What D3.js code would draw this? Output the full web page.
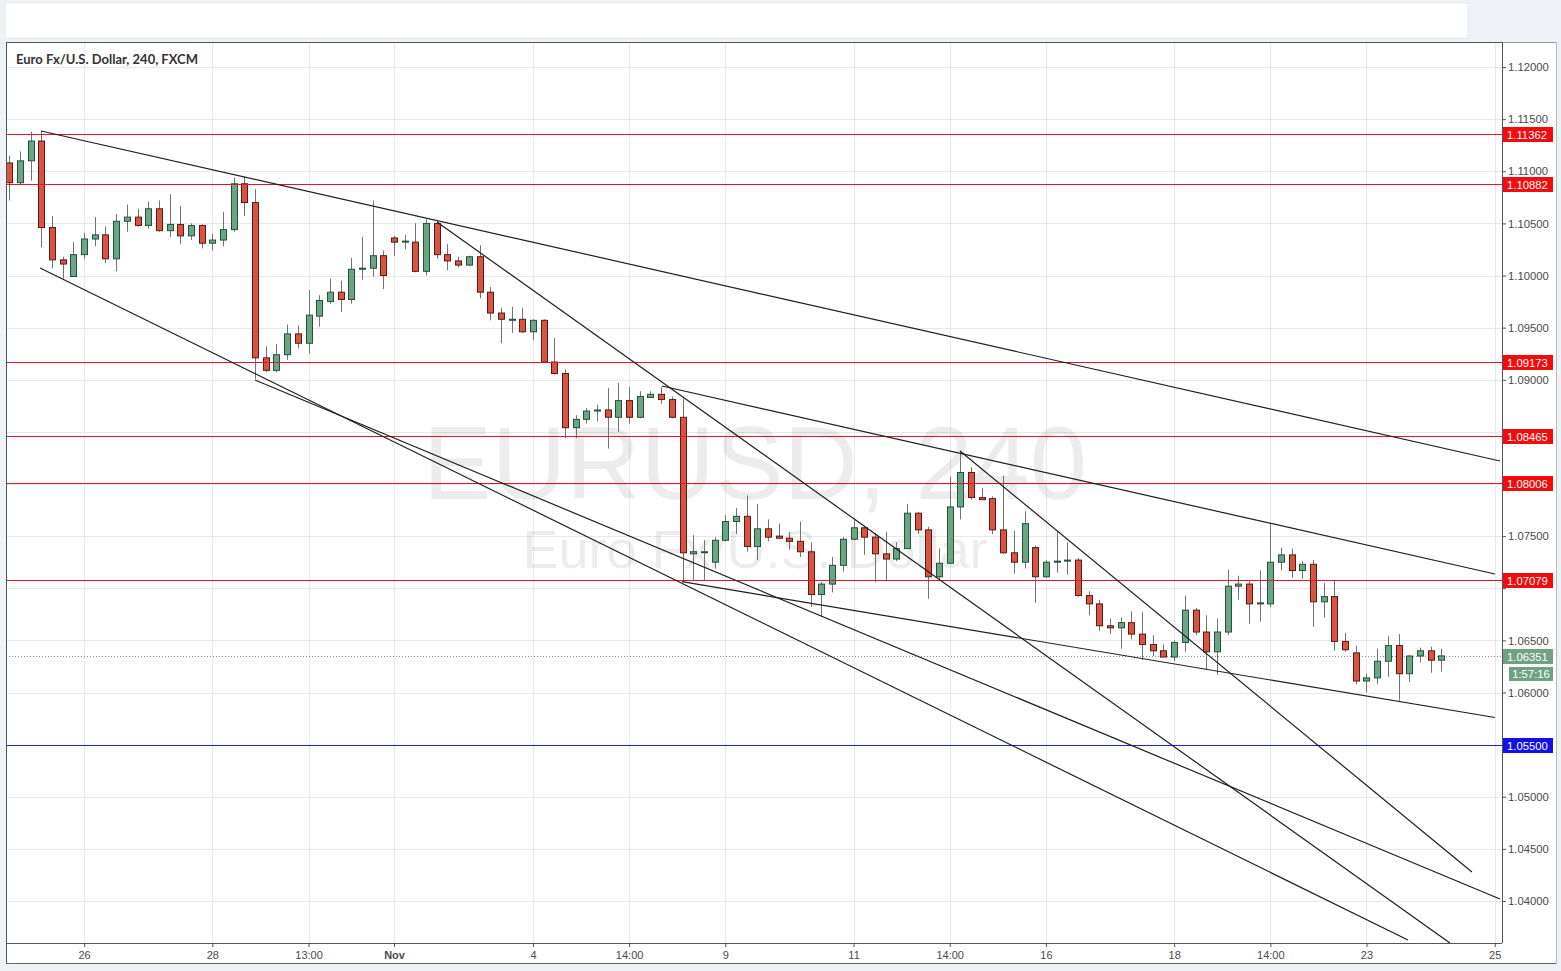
<!DOCTYPE html>
<html>
<head>
<meta charset="utf-8">
<script src="https://cdn.jsdelivr.net/npm/d3@7"></script>
<style>
  html, body { margin: 0; padding: 0; background: #eef2f6; }
  svg { display: block; }
</style>
</head>
<body>
<svg id="chart" width="1561" height="971"></svg>
<script>
// ---------- DATA ----------
const title = "Euro Fx/U.S. Dollar, 240, FXCM";
const watermarkMain = "EURUSD, 240";
const watermarkSub = "Euro Fx/U.S. Dollar";

const openP = [1.1108,1.1089,1.1110,1.1129,1.1046,1.1015,1.0999,1.1020,1.1035,1.1039,
1.1016,1.1052,1.1056,1.1048,1.1064,1.1043,1.1049,1.1038,1.1048,1.1031,
1.1034,1.1044,1.1088,1.1070,1.0921,1.0909,1.0924,1.0944,1.0935,1.0961,
1.0975,1.0984,1.0977,1.1006,1.1007,1.1019,1.1036,1.1032,1.1032,1.1004,
1.1050,1.1020,1.1014,1.1010,1.1018,1.0984,1.0964,1.0958,1.0958,1.0946,
1.0957,1.0917,1.0906,1.0854,1.0862,1.0870,1.0871,1.0864,1.0880,1.0864,
1.0883,1.0886,1.0881,1.0864,1.0733,1.0735,1.0725,1.0746,1.0764,1.0769,
1.0740,1.0757,1.0750,1.0748,1.0745,1.0735,1.0694,1.0704,1.0722,1.0747,
1.0758,1.0749,1.0733,1.0728,1.0738,1.0772,1.0756,1.0711,1.0724,1.0778,
1.0811,1.0787,1.0786,1.0756,1.0734,1.0725,1.0739,1.0711,1.0725,1.0726,
1.0727,1.0693,1.0685,1.0664,1.0662,1.0667,1.0656,1.0646,1.0640,1.0634,
1.0648,1.0679,1.0658,1.0639,1.0658,1.0702,1.0704,1.0685,1.0685,1.0725,
1.0732,1.0717,1.0723,1.0687,1.0692,1.0649,1.0638,1.0611,1.0614,1.0630,
1.0645,1.0618,1.0635,1.0640,1.0631];
const highP = [1.1115,1.1119,1.1138,1.1139,1.1057,1.1018,1.1032,1.1041,1.1056,1.1047,
1.1059,1.1068,1.1064,1.1071,1.1072,1.1078,1.1067,1.1050,1.1049,1.1040,
1.1061,1.1094,1.1095,1.1083,1.0932,1.0934,1.0953,1.0952,1.0986,1.0981,
1.0997,1.0995,1.1017,1.1037,1.1072,1.1024,1.1038,1.1039,1.1050,1.1054,
1.1052,1.1030,1.1018,1.1019,1.1029,1.0989,1.0969,1.0970,1.0969,1.0958,
1.0958,1.0940,1.0910,1.0866,1.0873,1.0876,1.0892,1.0897,1.0893,1.0889,
1.0889,1.0893,1.0884,1.0882,1.0751,1.0746,1.0749,1.0770,1.0777,1.0789,
1.0781,1.0766,1.0762,1.0754,1.0764,1.0744,1.0706,1.0730,1.0749,1.0767,
1.0759,1.0753,1.0754,1.0744,1.0781,1.0773,1.0759,1.0738,1.0807,1.0832,
1.0816,1.0796,1.0788,1.0808,1.0755,1.0774,1.0741,1.0727,1.0754,1.0744,
1.0729,1.0697,1.0689,1.0671,1.0672,1.0678,1.0677,1.0655,1.0646,1.0650,
1.0693,1.0681,1.0674,1.0671,1.0718,1.0712,1.0707,1.0717,1.0762,1.0739,
1.0738,1.0726,1.0727,1.0705,1.0708,1.0657,1.0645,1.0618,1.0642,1.0654,
1.0656,1.0636,1.0643,1.0644,1.0642];
const lowP = [1.1072,1.1087,1.1091,1.1027,1.1007,1.0997,1.0999,1.1016,1.1028,1.1012,
1.1004,1.1042,1.1047,1.1045,1.1042,1.1037,1.1030,1.1034,1.1026,1.1024,
1.1028,1.1042,1.1057,1.0901,1.0907,1.0907,1.0919,1.0930,1.0925,1.0951,
1.0973,1.0965,1.0973,1.0996,1.0999,1.0987,1.1019,1.1025,1.1003,1.1000,
1.1016,1.1005,1.1008,1.1009,1.0978,1.0957,1.0935,1.0945,1.0945,1.0938,
1.0917,1.0905,1.0844,1.0844,1.0858,1.0860,1.0834,1.0850,1.0858,1.0863,
1.0883,1.0877,1.0863,1.0706,1.0708,1.0708,1.0719,1.0745,1.0752,1.0735,
1.0727,1.0745,1.0747,1.0737,1.0730,1.0682,1.0673,1.0696,1.0716,1.0746,
1.0732,1.0706,1.0708,1.0726,1.0738,1.0752,1.0690,1.0708,1.0723,1.0766,
1.0785,1.0785,1.0752,1.0733,1.0714,1.0719,1.0686,1.0710,1.0715,1.0713,
1.0692,1.0674,1.0659,1.0656,1.0642,1.0651,1.0631,1.0635,1.0634,1.0630,
1.0639,1.0655,1.0622,1.0617,1.0655,1.0689,1.0666,1.0668,1.0682,1.0717,
1.0710,1.0709,1.0663,1.0672,1.0640,1.0639,1.0608,1.0600,1.0608,1.0615,
1.0592,1.0610,1.0629,1.0619,1.0620];
const closeP = [1.1089,1.1110,1.1129,1.1046,1.1015,1.1011,1.1020,1.1035,1.1039,1.1016,
1.1052,1.1056,1.1048,1.1064,1.1043,1.1049,1.1038,1.1048,1.1031,1.1034,
1.1044,1.1088,1.1070,1.0921,1.0909,1.0924,1.0944,1.0935,1.0962,1.0976,
1.0984,1.0977,1.1006,1.1007,1.1019,1.1000,1.1032,1.1033,1.1004,1.1050,
1.1020,1.1014,1.1010,1.1018,1.0984,1.0964,1.0958,1.0958,1.0946,1.0957,
1.0917,1.0906,1.0854,1.0862,1.0870,1.0871,1.0864,1.0880,1.0864,1.0884,
1.0886,1.0881,1.0864,1.0734,1.0735,1.0735,1.0746,1.0764,1.0769,1.0740,
1.0757,1.0749,1.0748,1.0745,1.0735,1.0694,1.0704,1.0722,1.0747,1.0758,
1.0749,1.0733,1.0728,1.0738,1.0772,1.0756,1.0711,1.0724,1.0778,1.0811,
1.0787,1.0785,1.0756,1.0734,1.0725,1.0762,1.0711,1.0725,1.0726,1.0727,
1.0693,1.0685,1.0664,1.0662,1.0667,1.0656,1.0646,1.0640,1.0634,1.0648,
1.0679,1.0658,1.0639,1.0658,1.0702,1.0704,1.0685,1.0686,1.0725,1.0732,
1.0717,1.0723,1.0687,1.0692,1.0649,1.0641,1.0611,1.0614,1.0630,1.0645,
1.0618,1.0635,1.0640,1.0631,1.06351];

// time axis: candle index -> label
const timeTickIdx = [7, 19, 28, 36, 49, 58, 67, 79, 88, 97, 109, 118, 127, 139];
const timeTickLabels = ["26","28","13:00","Nov","4","14:00","9","11","14:00","16","18","14:00","23","25"];
const boldTicks = ["Nov"];

// price axis ticks
const priceTicks = [1.04,1.045,1.05,1.055,1.06,1.065,1.07,1.075,1.08,1.085,1.09,1.095,1.10,1.105,1.11,1.115,1.12];

// horizontal levels
const redLevels = [1.11362, 1.10882, 1.09173, 1.08465, 1.08006, 1.07079];
const blueLevels = [1.05500];
const lastPrice = 1.06351;
const countdown = "1:57:16";

// trend lines: [startIdx, startPrice, endIdx, endPrice]
const trendStartIdx  = [2.97, 2.88, 22.99, 40.02, 61.07, 88.96, 62.95];
const trendStartPx   = [1.11386, 1.10072, 1.08998, 1.10513, 1.0894, 1.08317, 1.07063];
const trendEndIdx    = [139.49, 130.88, 139.49, 134.81, 139.02, 136.87, 139.02];
const trendEndPx     = [1.08221, 1.03626, 1.04019, 1.03597, 1.07137, 1.04278, 1.0576];

// ---------- LAYOUT ----------
const svg = d3.select("#chart");
const plot = {left: 6, top: 42, right: 1502, bottom: 943};
const x = d3.scaleLinear().domain([0, 134]).range([9.3, 1441.3]);
const y = d3.scaleLinear().domain([1.04, 1.12]).range([901, 67]);

const upFill = "#6ba583", upBorder = "#225437";
const dnFill = "#d75442", dnBorder = "#5b1a13";
const wickCol = "#737375";

// top bar
svg.append("rect").attr("x", 5).attr("y", 3).attr("width", 1463).attr("height", 35)
  .attr("fill", "#ffffff").attr("stroke", "#e4e8ec");

// container
svg.append("rect").attr("x", 6).attr("y", 42).attr("width", 1550).attr("height", 922)
  .attr("fill", "#ffffff");

const defs = svg.append("defs");
defs.append("clipPath").attr("id", "plotClip").append("rect")
  .attr("x", plot.left).attr("y", plot.top)
  .attr("width", plot.right - plot.left).attr("height", plot.bottom - plot.top);

const g = svg.append("g").attr("clip-path", "url(#plotClip)");

// grid
g.selectAll("line.hgrid").data(priceTicks).enter().append("line")
  .attr("x1", plot.left).attr("x2", plot.right)
  .attr("y1", d => Math.round(y(d)) + 0.5).attr("y2", d => Math.round(y(d)) + 0.5)
  .attr("stroke", "#e8e8e8");
g.selectAll("line.vgrid").data(timeTickIdx).enter().append("line")
  .attr("y1", plot.top).attr("y2", plot.bottom)
  .attr("x1", d => Math.round(x(d)) + 0.5).attr("x2", d => Math.round(x(d)) + 0.5)
  .attr("stroke", "#e8e8e8");

// watermark
g.append("text").attr("x", 755).attr("y", 499).attr("text-anchor", "middle")
  .attr("font-family", "Liberation Sans, Arial, sans-serif").attr("font-size", 103)
  .attr("fill", "#000").attr("fill-opacity", 0.075).text(watermarkMain);
g.append("text").attr("x", 755).attr("y", 568).attr("text-anchor", "middle")
  .attr("font-family", "Liberation Sans, Arial, sans-serif").attr("font-size", 54)
  .attr("fill", "#000").attr("fill-opacity", 0.075).text(watermarkSub);

// last price dotted line
g.append("line").attr("x1", plot.left).attr("x2", plot.right)
  .attr("y1", Math.round(y(lastPrice)) + 0.5).attr("y2", Math.round(y(lastPrice)) + 0.5)
  .attr("stroke", "#8a8a8a").attr("stroke-dasharray", "1,2");

// candles
const candles = d3.range(openP.length).map(i => ({
  i, o: openP[i], h: highP[i], l: lowP[i], c: closeP[i]
}));
const bw = 7;
const cg = g.append("g");
cg.selectAll("line.wick").data(candles).enter().append("line")
  .attr("x1", d => Math.round(x(d.i)) + 0.5).attr("x2", d => Math.round(x(d.i)) + 0.5)
  .attr("y1", d => y(d.h)).attr("y2", d => y(d.l))
  .attr("stroke", wickCol).attr("stroke-width", 1);
cg.selectAll("rect.body").data(candles).enter().append("rect")
  .attr("x", d => Math.round(x(d.i)) - 3 + 0.5)
  .attr("y", d => Math.min(y(d.o), y(d.c)))
  .attr("width", bw - 1)
  .attr("height", d => Math.max(1, Math.abs(y(d.o) - y(d.c))))
  .attr("fill", d => d.c >= d.o ? upFill : dnFill)
  .attr("stroke", d => d.c >= d.o ? upBorder : dnBorder)
  .attr("stroke-width", 1);

// horizontal levels
g.selectAll("line.red").data(redLevels).enter().append("line")
  .attr("x1", plot.left).attr("x2", plot.right)
  .attr("y1", d => Math.round(y(d)) + 0.5).attr("y2", d => Math.round(y(d)) + 0.5)
  .attr("stroke", "#e3142b").attr("stroke-width", 1.2);
g.selectAll("line.blue").data(blueLevels).enter().append("line")
  .attr("x1", plot.left).attr("x2", plot.right)
  .attr("y1", d => Math.round(y(d)) + 0.5).attr("y2", d => Math.round(y(d)) + 0.5)
  .attr("stroke", "#1f1fd6").attr("stroke-width", 1.2);

// trend lines
g.selectAll("line.trend").data(trendStartIdx).enter().append("line")
  .attr("x1", (d, i) => x(trendStartIdx[i])).attr("y1", (d, i) => y(trendStartPx[i]))
  .attr("x2", (d, i) => x(trendEndIdx[i])).attr("y2", (d, i) => y(trendEndPx[i]))
  .attr("stroke", "#1e1e1e").attr("stroke-width", 1.2);

// title
svg.append("text").attr("x", 16).attr("y", 64)
  .attr("font-family", "Lato, 'Open Sans', sans-serif").attr("font-weight", "bold")
  .attr("font-size", 13).attr("fill", "#333").text(title);

// right axis (labels hidden where a level label covers them)
const labelLevels = redLevels.concat(blueLevels, [lastPrice]);
const covered = v => labelLevels.some(l => Math.abs(y(l) - y(v)) < 10);
const yAxis = d3.axisRight(y).tickValues(priceTicks)
  .tickFormat(d => covered(d) ? "" : d3.format(".5f")(d))
  .tickSize(4).tickPadding(2);
const ya = svg.append("g").attr("transform", `translate(${plot.right},0)`).call(yAxis);
ya.select(".domain").remove();
ya.selectAll("line").attr("stroke", "#555");
ya.selectAll("text").attr("font-family", "Liberation Sans, Arial, sans-serif")
  .attr("font-size", 11.3).attr("fill", "#4a4a4a");

// bottom axis
const xAxis = d3.axisBottom(x).tickValues(timeTickIdx)
  .tickFormat((d, i) => timeTickLabels[i]).tickSize(4).tickPadding(4);
const xa = svg.append("g").attr("transform", `translate(0,${plot.bottom})`).call(xAxis);
xa.select(".domain").remove();
xa.selectAll("line").attr("stroke", "#555");
xa.selectAll("text").attr("font-family", "Liberation Sans, Arial, sans-serif")
  .attr("font-size", 11).attr("fill", "#4a4a4a")
  .attr("font-weight", (d, i) => boldTicks.includes(timeTickLabels[i]) ? "bold" : "normal");

// level labels
function levelLabel(val, color, text, xStart, w) {
  const yy = Math.round(y(val));
  svg.append("rect").attr("x", xStart).attr("y", yy - 7).attr("width", w).attr("height", 15)
    .attr("fill", color);
  svg.append("text").attr("x", xStart + 5).attr("y", yy + 4.5)
    .attr("font-family", "Liberation Sans, Arial, sans-serif").attr("font-size", 11.3)
    .attr("fill", "#fff").text(text);
}
redLevels.forEach(v => levelLabel(v, "#f20c0c", d3.format(".5f")(v), 1502, 51));
blueLevels.forEach(v => levelLabel(v, "#1212e6", d3.format(".5f")(v), 1502, 51));
levelLabel(lastPrice, "#6fa283", d3.format(".5f")(lastPrice), 1502, 51);
{
  const yy = Math.round(y(lastPrice)) + 11;
  svg.append("rect").attr("x", 1509).attr("y", yy).attr("width", 44).attr("height", 14)
    .attr("fill", "#6fa283");
  svg.append("text").attr("x", 1531).attr("y", yy + 11).attr("text-anchor", "middle")
    .attr("font-family", "Liberation Sans, Arial, sans-serif").attr("font-size", 11.3)
    .attr("fill", "#fff").text(countdown);
}

// frame lines
const frame = svg.append("g").attr("shape-rendering", "crispEdges");
frame.append("line").attr("x1", 6).attr("x2", 1502).attr("y1", 42.5).attr("y2", 42.5).attr("stroke", "#555");
frame.append("line").attr("x1", 1502).attr("x2", 1556).attr("y1", 42.5).attr("y2", 42.5).attr("stroke", "#999");
frame.append("line").attr("x1", 6.5).attr("x2", 6.5).attr("y1", 42).attr("y2", 964).attr("stroke", "#555");
frame.append("line").attr("x1", 1502.5).attr("x2", 1502.5).attr("y1", 42).attr("y2", 943).attr("stroke", "#555");
frame.append("line").attr("x1", 6).attr("x2", 1502).attr("y1", 943.5).attr("y2", 943.5).attr("stroke", "#555");
frame.append("line").attr("x1", 6).attr("x2", 1557).attr("y1", 963.5).attr("y2", 963.5).attr("stroke", "#666");
frame.append("line").attr("x1", 1556.5).attr("x2", 1556.5).attr("y1", 42).attr("y2", 964).attr("stroke", "#bbb");
</script>
</body>
</html>
